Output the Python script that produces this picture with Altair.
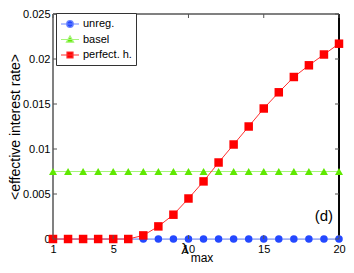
import altair as alt
import pandas as pd

lam = list(range(1, 21))
unreg = [0.0] * 20
basel = [0.0075] * 20
perfect = [0, 0, 0, 0, 0, 0, 0.0004, 0.0014, 0.0027, 0.0045, 0.0064, 0.0085,
           0.0105, 0.0125, 0.0145, 0.0163, 0.0180, 0.0193, 0.0205, 0.0217]
series_names = ["unreg.", "basel", "perfect. h."]
x_ticks = [1, 5, 10, 15, 20]
y_ticks = [0, 0.005, 0.01, 0.015, 0.02, 0.025]

marker_colors = ["#2448ff", "#5fe800", "#ff0000"]
line_colors = ["#6b86ff", "#a6f57a", "#ff3030"]
shapes = ["circle", "triangle-up", "square"]
legend_paths = [
    "M-1.5,0H1.5M0.55,0A0.55,0.55,0,1,1,-0.55,0A0.55,0.55,0,1,1,0.55,0Z",
    "M-1.5,0H1.5M0,-0.6L0.6,0.45L-0.6,0.45Z",
    "M-1.5,0H1.5M-0.5,-0.5H0.5V0.5H-0.5Z",
]
sizes = [56, 72, 46]

rows = []
for name, vals in zip(series_names, [unreg, basel, perfect]):
    for xv, yv in zip(lam, vals):
        rows.append({"lam": xv, "val": yv, "series": name, "s2": name})
df = pd.DataFrame(rows)

W, H = 286, 225
xs = alt.Scale(domain=[1, 20], nice=False, zero=False)
ys = alt.Scale(domain=[0, 0.025], nice=False)

base = alt.Chart(df)

lines = base.mark_line(strokeWidth=1).encode(
    x=alt.X("lam:Q", scale=xs, axis=alt.Axis(values=x_ticks, ticks=False, grid=False,
                                              labelFlush=False, title=None, domain=False,
                                              labelFontSize=11, labelPadding=4,
                                              labelColor="black", format="d")),
    y=alt.Y("val:Q", scale=ys, axis=alt.Axis(values=y_ticks, ticks=False, grid=False,
                                              labelFlush=False, title="<effective interest rate>",
                                              titleFontSize=14, titleFontWeight="normal",
                                              titleX=-31, titleY=H / 2, titleColor="black",
                                              domain=False, labelFontSize=11, labelPadding=3,
                                              labelColor="black", format="~g")),
    stroke=alt.Stroke("s2:N", scale=alt.Scale(domain=series_names, range=line_colors), legend=None),
    detail="series:N",
    order=alt.Order("lam:Q"),
)

points = base.mark_point(filled=True, opacity=1).encode(
    x=alt.X("lam:Q", scale=xs),
    y=alt.Y("val:Q", scale=ys),
    fill=alt.Fill("s2:N", scale=alt.Scale(domain=series_names, range=marker_colors), legend=None),
    shape=alt.Shape("s2:N", scale=alt.Scale(domain=series_names, range=shapes), legend=None),
    size=alt.Size("s2:N", scale=alt.Scale(domain=series_names, range=sizes), legend=None),
)

leg = alt.Legend(orient="none", legendX=3, legendY=-1, title=None,
                 fillColor="white", strokeColor="#333",
                 padding=4, labelFontSize=11, labelColor="black",
                 symbolSize=144, symbolOpacity=1,
                 symbolStrokeWidth=1.2, rowPadding=2.5,
                 labelOffset=6, symbolOffset=3)
legend_layer = base.transform_filter("datum.lam < 0").mark_point(filled=True, opacity=1).encode(
    x=alt.X("lam:Q", scale=xs),
    y=alt.Y("val:Q", scale=ys),
    fill=alt.Fill("series:N", scale=alt.Scale(domain=series_names, range=marker_colors), legend=leg),
    stroke=alt.Stroke("series:N", scale=alt.Scale(domain=series_names, range=line_colors), legend=leg),
    shape=alt.Shape("series:N", scale=alt.Scale(domain=series_names, range=legend_paths), legend=leg),
)

tick_df = pd.DataFrame({"yt": y_ticks})
tb = alt.Chart(tick_df)
yt_left = tb.mark_rule(color="#555").encode(y=alt.Y("yt:Q", scale=ys), x=alt.value(0), x2=alt.value(4))
yt_right = tb.mark_rule(color="#555").encode(y=alt.Y("yt:Q", scale=ys), x=alt.value(W - 4), x2=alt.value(W))
xdf = pd.DataFrame({"xt": x_ticks})
xb = alt.Chart(xdf)
xt_bot = xb.mark_rule(color="#555").encode(x=alt.X("xt:Q", scale=xs), y=alt.value(H), y2=alt.value(H - 4))
xt_top = xb.mark_rule(color="#555").encode(x=alt.X("xt:Q", scale=xs), y=alt.value(0), y2=alt.value(4))

frame_left = xb.mark_rule(color="#808080", strokeWidth=2).encode(x=alt.value(0), y=alt.value(0), y2=alt.value(H))
frame_top = xb.mark_rule(color="#808080", strokeWidth=1.5).encode(x=alt.value(0), x2=alt.value(W), y=alt.value(0))
frame_right = xb.mark_rule(color="black", strokeWidth=1).encode(x=alt.value(W), y=alt.value(0), y2=alt.value(H))

lab_df = pd.DataFrame({"t": ["(d)"], "lx": [19.0], "ly": [0.0026]})
panel_label = alt.Chart(lab_df).mark_text(fontSize=15, color="black", font="Liberation Sans").encode(
    x=alt.X("lx:Q", scale=xs), y=alt.Y("ly:Q", scale=ys), text="t:N")

xt_df = pd.DataFrame({"t": ["λ"]})
xtitle1 = alt.Chart(xt_df).mark_text(fontSize=15, color="black", font="Liberation Sans",
                                     baseline="alphabetic").encode(
    x=alt.value(132), y=alt.value(H + 15), text="t:N")
xt_df2 = pd.DataFrame({"t": ["max"]})
xtitle2 = alt.Chart(xt_df2).mark_text(fontSize=12, color="black", font="Liberation Sans",
                                      baseline="alphabetic").encode(
    x=alt.value(149), y=alt.value(H + 23), text="t:N")

chart = alt.layer(
    frame_left, frame_top, frame_right,
    lines, points, legend_layer,
    yt_left, yt_right, xt_bot, xt_top,
    panel_label, xtitle1, xtitle2,
).resolve_scale(shape="independent", size="independent", stroke="independent",
                fill="independent", color="independent").properties(
    width=W, height=H,
    autosize=alt.AutoSizeParams(type="none"),
    padding={"left": 45, "top": 6, "right": 7, "bottom": 26},
).configure_view(stroke=None).configure(font="Liberation Sans").configure_legend(columnPadding=0)

chart.save("out.html", embed_options={"renderer": "svg", "actions": False})
